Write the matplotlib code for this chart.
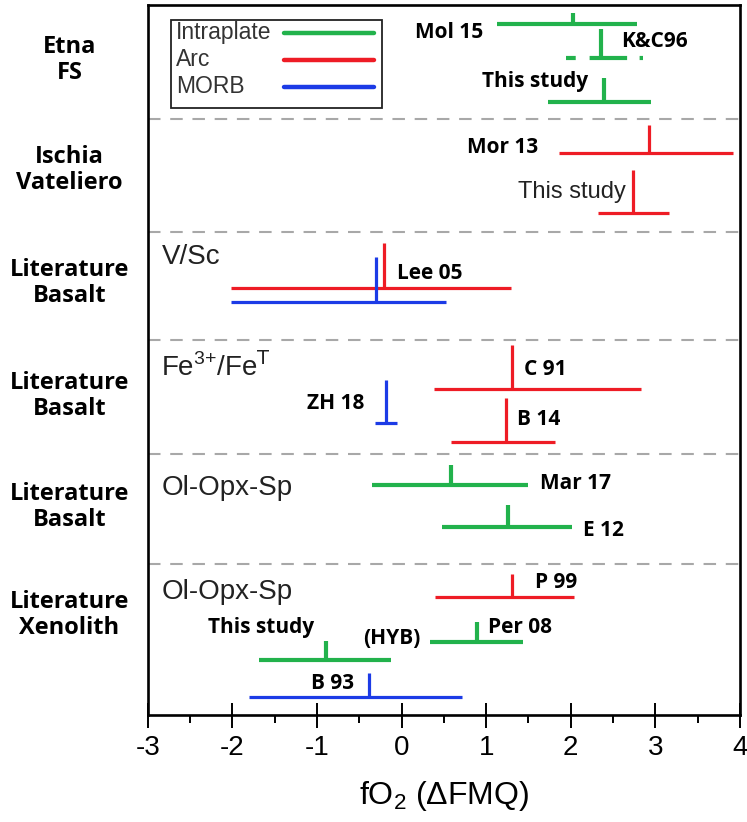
import matplotlib.pyplot as plt
from matplotlib.patches import Rectangle
from matplotlib.transforms import blended_transform_factory

plt.rcParams['font.family'] = ['Liberation Sans', 'DejaVu Sans']
plt.rcParams['mathtext.fontset'] = 'custom'
plt.rcParams['mathtext.rm'] = 'Liberation Sans'
plt.rcParams['mathtext.it'] = 'Liberation Sans:italic'
plt.rcParams['lines.scale_dashes'] = False
plt.rcParams['axes.unicode_minus'] = False

# fO2 (delta FMQ) for each study: low end, mean, high end
studies = ["Mol 15", "K&C96", "This study", "Mor 13", "This study",
           "Lee 05", "", "C 91", "ZH 18", "B 14",
           "Mar 17", "E 12", "P 99", "Per 08", "This study", "B 93"]
settings = ["Intraplate", "Intraplate", "Intraplate", "Arc", "Arc",
            "Arc", "MORB", "Arc", "MORB", "Arc",
            "Intraplate", "Intraplate", "Arc", "Intraplate", "Intraplate", "MORB"]
fo2_low = [1.13, 1.94, 1.73, 1.86, 2.32, -2.02, -2.02, 0.38, -0.32, 0.58,
           -0.35, 0.48, 0.39, 0.34, -1.69, -1.81]
fo2_mean = [2.03, 2.36, 2.39, 2.93, 2.74, -0.21, -0.30, 1.31, -0.19, 1.23,
            0.58, 1.26, 1.30, 0.89, -0.89, -0.39]
fo2_high = [2.78, 2.85, 2.95, 3.92, 3.16, 1.29, 0.52, 2.83, -0.05, 1.81,
            1.49, 2.01, 2.04, 1.44, -0.13, 0.71]

groups = ["Etna\nFS", "Ischia\nVateliero", "Literature\nBasalt",
          "Literature\nBasalt", "Literature\nBasalt", "Literature\nXenolith"]
methods = ["", "", "V/Sc", "Fe$^{3{+}}$/Fe$^{\\mathsf{T}}$", "Ol-Opx-Sp", "Ol-Opx-Sp"]
setting_names = ["Intraplate", "Arc", "MORB"]
xticks = [-3, -2, -1, 0, 1, 2, 3, 4]

colors = {"Intraplate": "#22b24c", "Arc": "#ee1c25", "MORB": "#1c3be6"}
widths = {"Intraplate": 3.0, "Arc": 2.3, "MORB": 2.3}

# vertical layout (axis units, top = 0)
row_y = [19, 53, 97, 148, 208, 283, 297, 384, 418, 437, 480, 522, 592, 637, 655, 692]
stem = [11, 29, 24, 28, 43, 45, 45, 44, 43, 44, 20, 22, 23, 20, 19, 24]
label_at = [(0.97, 28, 'right'), (2.60, 37, 'left'), (2.20, 77, 'right'),
            (1.61, 143, 'right'), (2.65, 187, 'right'), (-0.06, 268, 'left'),
            None, (1.45, 364, 'left'), (-0.44, 398, 'right'), (1.36, 414, 'left'),
            (1.64, 478, 'left'), (2.14, 525, 'left'), (1.58, 577, 'left'),
            (1.02, 622, 'left'), (-1.66, 622, 'center'), (-1.07, 678, 'left')]
separators = [114, 227, 335, 449, 559]
group_y = [55, 165, 278, 391, 502, 610]
method_y = [0, 0, 252, 362, 483, 587]

fig = plt.figure(figsize=(7.47, 8.22), dpi=100)
ax = fig.add_axes([0.198, 0.130, 0.7925, 0.864])
ax.set_xlim(-3, 4)
ax.set_ylim(710, 0)

bold = dict(family=['Open Sans', 'DejaVu Sans'], fontweight='bold', fontsize=15)

for y in separators:
    ax.axhline(y, color='#a8a8a8', lw=1.5, dashes=(9, 7))

for i, name in enumerate(studies):
    c = colors[settings[i]]
    lw = widths[settings[i]]
    y = row_y[i]
    if name == "K&C96":
        ax.hlines(y, fo2_low[i], fo2_high[i], color=c, lw=lw,
                  linestyles=[(0, (7, 10, 27, 9, 10, 60))])
    else:
        ax.hlines(y, fo2_low[i], fo2_high[i], color=c, lw=lw)
    ax.vlines(fo2_mean[i], y - stem[i], y, color=c, lw=lw)
    if label_at[i] is None:
        continue
    lx, ly, ha = label_at[i]
    if i == 4:
        ax.text(lx, ly, name, ha=ha, va='center', fontsize=17, color='#222222')
    else:
        ax.text(lx, ly, name, ha=ha, va='center', **bold)

ax.text(0.22, 633, "(HYB)", ha='right', va='center', **bold)

for y, m in zip(method_y, methods):
    if m:
        ax.text(-2.84, y, m, ha='left', va='center', fontsize=20, color='#222222')

# group names left of the axis
trans = blended_transform_factory(fig.transFigure, ax.transData)
for y, g in zip(group_y, groups):
    ax.text(0.093, y, g, transform=trans, ha='center', va='center',
            linespacing=1.15, clip_on=False, **{**bold, 'fontsize': 17})

# key box
ax.add_patch(Rectangle((-2.73, 15), 2.5, 88, fill=False, ec='#222222', lw=1.3))
for k, s in enumerate(setting_names):
    ky = 28 + 27 * k
    ax.text(-2.67, ky, s, ha='left', va='center', fontsize=16.5, color='#333333')
    ax.plot([-1.39, -0.33], [ky, ky], color=colors[s], lw=3.2, solid_capstyle='round')

ax.set_xticks(xticks)
ax.set_xticks([v + 0.5 for v in xticks[:-1]], minor=True)
ax.set_yticks([])
ax.tick_params(axis='x', which='major', direction='inout', length=18, width=1.4,
               labelsize=20, pad=5)
ax.tick_params(axis='x', which='minor', direction='out', length=6, width=1.4)
for sp in ax.spines.values():
    sp.set_linewidth(1.9)
ax.set_xlabel("fO$_2$ ($\\Delta$FMQ)", fontsize=23, labelpad=13)

fig.savefig("out.png", dpi=100)
